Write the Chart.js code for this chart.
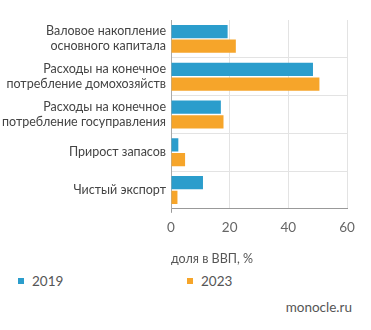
<!DOCTYPE html>
<html>
<head>
<meta charset="utf-8">
<script src="https://cdn.jsdelivr.net/npm/chart.js@4/dist/chart.umd.min.js"></script>
<style>
  html, body { margin: 0; padding: 0; background: #fff; }
  body { width: 371px; height: 330px; position: relative; overflow: hidden; font-family: Lato, "Open Sans", sans-serif; color: #555; }
  #wrap { position: absolute; left: 0; top: 0; width: 371px; height: 266px; }
  .leg { position: absolute; top: 272px; font-size: 13.5px; line-height: 18px; color: #555; }
  .leg i { display: inline-block; width: 6px; height: 6px; margin-right: 8px; vertical-align: 2px; }
  #src { position: absolute; right: 19px; top: 298px; font-size: 13.5px; line-height: 18px; color: #555; }
</style>
</head>
<body>
<div id="wrap"><canvas id="chart"></canvas></div>
<div class="leg" id="leg0" style="left:18px"></div>
<div class="leg" id="leg1" style="left:187px"></div>
<div id="src">monocle.ru</div>
<script>
const categories = [
  ['Валовое накопление', 'основного капитала'],
  ['Расходы на конечное', 'потребление домохозяйств'],
  ['Расходы на конечное', 'потребление госуправления'],
  'Прирост запасов',
  'Чистый экспорт'
];
const seriesNames = ['2019', '2023'];
const values2019 = [19.3, 48.4, 17.0, 2.5, 10.9];
const values2023 = [22.1, 50.6, 17.9, 4.8, 2.2];
const xTicks = [0, 20, 40, 60];
const colors = ['#2b9dcc', '#f6a52a'];

// html legend, two items spread apart like the original
seriesNames.forEach(function(name, i) {
  document.getElementById('leg' + i).innerHTML =
    '<i style="background:' + colors[i] + '"></i>' + name;
});

const ctx = document.getElementById('chart').getContext('2d');
const chart = new Chart(ctx, {
  type: 'bar',
  data: {
    labels: categories,
    datasets: [
      { label: seriesNames[0], data: values2019, backgroundColor: colors[0] },
      { label: seriesNames[1], data: values2023, backgroundColor: colors[1] }
    ]
  },
  options: {
    indexAxis: 'y',
    responsive: true,
    maintainAspectRatio: false,
    animation: false,
    categoryPercentage: 0.78,
    barPercentage: 0.9,
    layout: { padding: { top: 20, right: 24, left: 0, bottom: 0 } },
    plugins: {
      legend: { display: false },
      tooltip: { enabled: false }
    },
    scales: {
      x: {
        min: 0,
        max: 60,
        afterBuildTicks: function(scale) {
          scale.ticks = xTicks.map(function(v) { return { value: v }; });
        },
        grid: {
          color: '#e3e3e3',
          drawTicks: true,
          tickLength: 4,
          // only the zero line pokes below the axis
          tickColor: function(c) { return c.index === 0 ? '#999' : 'rgba(0,0,0,0)'; }
        },
        border: { color: '#999' },
        ticks: { color: '#666', padding: 7, font: { family: 'Lato', size: 13.5 } },
        title: {
          display: true,
          text: 'доля в ВВП, %',
          align: 'start',
          color: '#555',
          padding: { top: 8, bottom: 0 },
          font: { family: 'Lato', size: 12.5 }
        }
      },
      y: {
        afterFit: function(scale) { scale.width = 171; },
        grid: {
          color: function(c) { return c.index === 0 ? 'rgba(0,0,0,0)' : '#e3e3e3'; },
          drawTicks: false
        },
        border: { color: '#aaa' },
        ticks: { color: '#444', padding: 5, font: { family: 'Lato', size: 12.5 } }
      }
    }
  }
});
</script>
</body>
</html>
